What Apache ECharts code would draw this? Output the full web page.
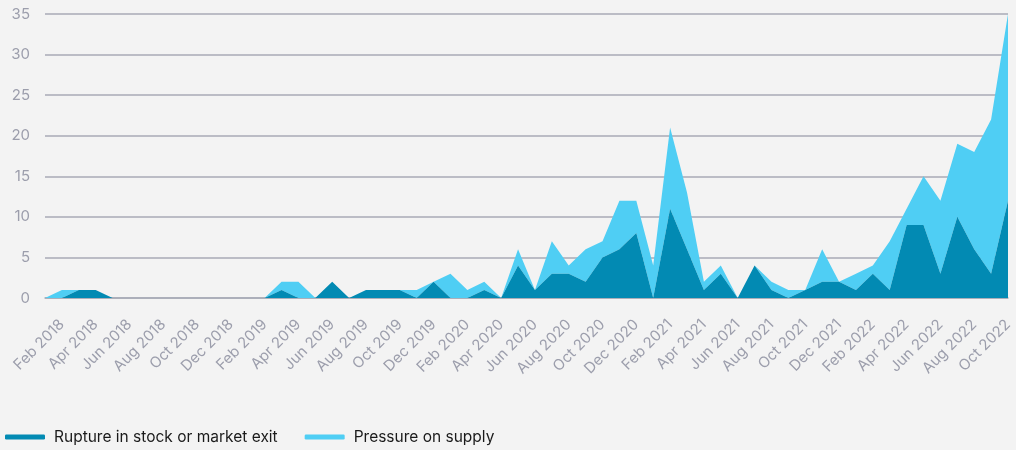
<!DOCTYPE html>
<html>
<head>
<meta charset="utf-8">
<script src="https://cdn.jsdelivr.net/npm/echarts@6/dist/echarts.min.js"></script>
<style>
  html, body { margin: 0; padding: 0; background: #f3f3f3; }
  #chart { width: 1016px; height: 450px; }
</style>
</head>
<body>
<div id="chart"></div>
<script>
// monthly, Jan 2018 .. Oct 2022
const MONTHS = ['Jan', 'Feb', 'Mar', 'Apr', 'May', 'Jun', 'Jul', 'Aug', 'Sep', 'Oct', 'Nov', 'Dec']
const categories = []
for (let y = 2018; y <= 2022; y++) {
  for (let m = 0; m < 12; m++) {
    if (y === 2022 && m > 9) break
    categories.push(MONTHS[m] + ' ' + y)
  }
}

const rupture = [
  0, 0, 1, 1,
  0, 0, 0, 0, 0, 0, 0, 0, 0,
  0, 1, 0, 0, 2, 0, 1, 1, 1, 0, 2, 0, 0, 1, 0,
  4, 1, 3, 3, 2, 5, 6, 8, 0, 11,
  6, 1, 3, 0, 4, 1, 0, 1, 2, 2,
  1, 3, 1, 9, 9, 3, 10, 6, 3, 12
]

const pressure = [
  0, 1, 0, 0,
  0, 0, 0, 0, 0, 0, 0, 0, 0,
  0, 1, 2, 0, 0, 0, 0, 0, 0, 1, 0, 3, 1, 1, 0,
  2, 0, 4, 1, 4, 2, 6, 4, 4, 10,
  7, 1, 1, 0, 0, 1, 1, 0, 4, 0,
  2, 1, 6, 2, 6, 9, 9, 12, 19, 23
]

const yTicks = { min: 0, max: 35, interval: 5 }

const DARK = '#028ab3'
const LIGHT = '#4fcef4'
const GRID_LINE = '#a8aab6'
const LABEL = '#9c9eac'

const chart = echarts.init(document.getElementById('chart'))

chart.setOption({
  backgroundColor: '#f3f3f3',
  animation: false,
  textStyle: { fontFamily: 'Inter, sans-serif' },
  grid: { left: 45, right: 8, top: 14, bottom: 152 },
  legend: {
    left: 0,
    bottom: 0,
    icon: 'roundRect',
    itemWidth: 40,
    itemHeight: 5,
    itemGap: 27,
    textStyle: { color: '#1a1a1a', fontSize: 15.5, padding: [0, 0, 0, 4] },
    data: ['Rupture in stock or market exit', 'Pressure on supply']
  },
  xAxis: {
    type: 'category',
    data: categories,
    boundaryGap: false,
    axisLine: { lineStyle: { color: GRID_LINE, width: 1.5 } },
    axisTick: { show: false },
    axisLabel: {
      color: LABEL,
      fontSize: 15,
      rotate: 45,
      margin: 24,
      interval: (i) => i % 2 === 1
    }
  },
  yAxis: {
    type: 'value',
    min: yTicks.min,
    max: yTicks.max,
    interval: yTicks.interval,
    axisLine: { show: false },
    axisTick: { show: false },
    axisLabel: { color: LABEL, fontSize: 15, margin: 15 },
    splitLine: { lineStyle: { color: GRID_LINE, width: 1.5 } }
  },
  series: [
    {
      name: 'Rupture in stock or market exit',
      type: 'line',
      stack: 'total',
      data: rupture,
      symbol: 'none',
      color: DARK,
      lineStyle: { width: 0 },
      areaStyle: { color: DARK, opacity: 1 },
      z: 3
    },
    {
      name: 'Pressure on supply',
      type: 'line',
      stack: 'total',
      data: pressure,
      symbol: 'none',
      color: LIGHT,
      lineStyle: { width: 0 },
      areaStyle: { color: LIGHT, opacity: 1 },
      z: 2
    }
  ]
})
</script>
</body>
</html>
